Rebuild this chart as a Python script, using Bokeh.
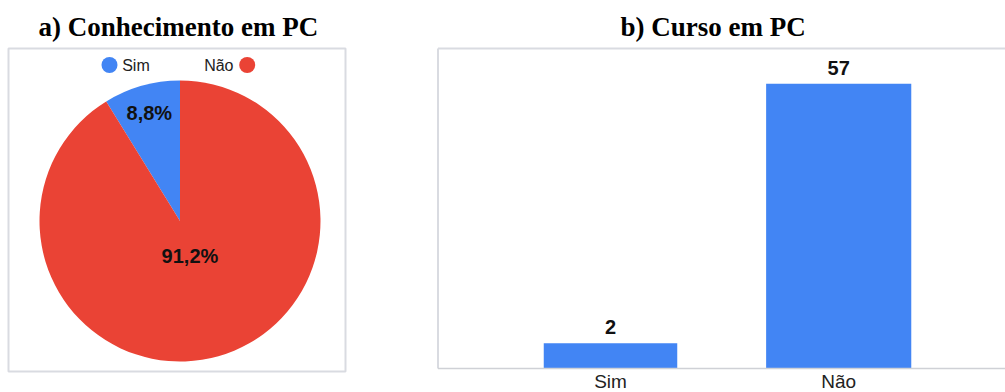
import numpy as np
from bokeh.plotting import figure
from bokeh.layouts import row
from bokeh.models import Range1d, Title, ColumnDataSource
from bokeh.core.properties import value
from bokeh.embed import file_html
from bokeh.resources import INLINE

# a) Conhecimento em PC - share of answers (%)
pie_labels = ["Sim", "Não"]
pie_shares = [8.8, 91.2]

# b) Curso em PC - number of answers
bar_categories = ["Sim", "Não"]
bar_counts = [2, 57]

BLUE = "#4285f4"
RED = "#ea4335"
BORDER = "#d9dbe1"
AXIS = "#cfd1d6"
INK = "#111111"
SANS = "Liberation Sans"
SERIF = "Liberation Serif"
H = 392
TOP = 44  # height reserved for the titles


def title(text, offset):
    return Title(text=text, align="left", offset=offset,
                 text_font=SERIF, text_font_size="27px",
                 text_font_style="bold", text_color="#000000", standoff=6)


# ---------------------------------------------------------------- pie panel
# data units are pixels, origin at the pie centre
CX, CY, R = 179.5, 220.5, 140.5
WA = 430
pa = figure(width=WA, height=H,
            x_range=Range1d(-CX, WA - CX), y_range=Range1d(CY - H, CY - TOP),
            min_border_left=0, min_border_right=0,
            min_border_top=TOP, min_border_bottom=0,
            output_backend="svg", toolbar_location=None)
pa.add_layout(title("a) Conhecimento em PC", 38), "above")
pa.axis.visible = False
pa.grid.visible = False
pa.outline_line_color = None
pa.background_fill_color = "white"
pa.border_fill_color = "white"

# chart box
pa.quad(left=8 - CX, right=345 - CX, top=CY - 48, bottom=CY - 371,
        fill_color=None, line_color=BORDER, line_width=2)

shares = np.array(pie_shares) / 100.0
ends = np.pi / 2 + 2 * np.pi * np.cumsum(shares)
starts = np.concatenate([[np.pi / 2], ends[:-1]])
mids = (starts + ends) / 2
label_r = np.array([0.8, 0.26]) * R

pie_src = ColumnDataSource(dict(
    start=starts, end=ends, color=[BLUE, RED],
    lx=label_r * np.cos(mids), ly=label_r * np.sin(mids),
    txt=[f"{v:.1f}%".replace(".", ",") for v in pie_shares],
))
pa.wedge(x=0, y=0, radius=R, start_angle="start", end_angle="end",
         fill_color="color", line_color=None, source=pie_src)
pa.text(x="lx", y="ly", text="txt", source=pie_src,
        text_font=value(SANS), text_font_size="20px",
        text_font_style="bold", text_color=INK,
        text_align="center", text_baseline="middle")

# legend: a dot beside each label, Sim on the left, Não on the right
pa.scatter(x=[-70.5, 67.2], y=[156.0, 156.0], size=16,
           fill_color=[BLUE, RED], line_color=None)
pa.text(x=[-57.8, 53.5], y=[155.5, 155.5], text=pie_labels,
        text_align=["left", "right"],
        text_font=value(SANS), text_font_size="16px",
        text_color="#222222", text_baseline="middle")

# ---------------------------------------------------------------- bar panel
WB = 575
PX_X = 228.2           # pixels per category step
PX_Y = 4.72            # pixels per answer
BASE = -3.34           # value at the baseline of the bars
BASE_PX = 368
x0 = -(610 - WA) / PX_X
x1 = x0 + WB / PX_X
y_top = BASE + (BASE_PX - TOP) / PX_Y
y_bot = BASE - (H - BASE_PX) / PX_Y

pb = figure(width=WB, height=H,
            x_range=Range1d(x0, x1), y_range=Range1d(y_bot, y_top),
            min_border_left=0, min_border_right=0,
            min_border_top=TOP, min_border_bottom=0,
            output_backend="svg", toolbar_location=None)
pb.add_layout(title("b) Curso em PC", 190), "above")
pb.axis.visible = False
pb.grid.visible = False
pb.outline_line_color = None
pb.background_fill_color = "white"
pb.border_fill_color = "white"

idx = list(range(len(bar_categories)))
bar_src = ColumnDataSource(dict(
    x=idx, top=bar_counts, w=[0.585, 0.636], cat=bar_categories,
    txt=[str(v) for v in bar_counts],
))
pb.vbar(x="x", top="top", bottom=BASE, width="w", source=bar_src,
        fill_color=BLUE, line_color=None)
pb.text(x="x", y="top", text="txt", source=bar_src,
        text_font=value(SANS), text_font_size="20px",
        text_font_style="bold", text_color=INK,
        text_align="center", text_baseline="middle", y_offset=-16)

# chart box (left and top edges) and the category baseline
left_edge = (437.5 - 610) / PX_X
top_edge = BASE + (BASE_PX - 48) / PX_Y
pb.segment(x0=[left_edge, left_edge], y0=[BASE, top_edge],
           x1=[left_edge, x1], y1=[top_edge, top_edge],
           line_color=BORDER, line_width=2)
pb.segment(x0=[left_edge], y0=[BASE], x1=[x1], y1=[BASE],
           line_color=AXIS, line_width=1.5)

# category names under the baseline
pb.text(x="x", y=BASE, text="cat", source=bar_src,
        text_font=value(SANS), text_font_size="19px", text_color="#222222",
        text_align="center", text_baseline="top", y_offset=2)

layout = row(pa, pb)
open("out.html", "w").write(file_html(layout, INLINE))
